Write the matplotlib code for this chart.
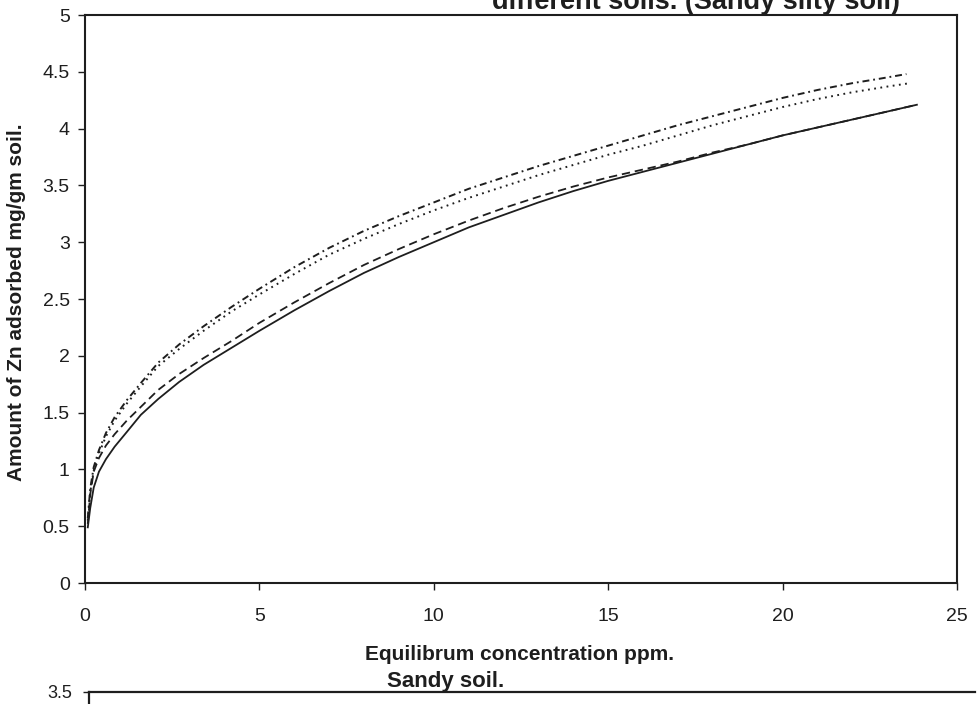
import matplotlib
matplotlib.use("Agg")
import matplotlib.pyplot as plt

plt.rcParams['font.family'] = ['Liberation Sans', 'DejaVu Sans']
plt.rcParams['lines.scale_dashes'] = False

NARROW = ['Liberation Sans Narrow', 'DejaVu Sans Condensed', 'Liberation Sans']

# Equilibrium concentration (ppm)
conc = [0.08, 0.15, 0.25, 0.4, 0.6, 0.85, 1.2, 1.6, 2.1, 2.7, 3.4, 4.2, 5.0,
        6.0, 7.0, 8.0, 9.0, 10, 11, 12, 13, 14, 15, 16, 17, 18, 19, 20, 21,
        22, 23]
conc_solid = conc + [23.85]
conc_dashed = conc + [23.85]
conc_dotted = conc + [23.65]
conc_dashdot = conc[:-1] + [22.8, 23.55]

# Zn adsorbed (mg/gm soil) for the four isotherms
zn_solid = [0.49, 0.66, 0.84, 0.98, 1.09, 1.20, 1.33, 1.48, 1.62, 1.77, 1.92,
            2.07, 2.22, 2.40, 2.57, 2.73, 2.87, 3.00, 3.13, 3.24, 3.35, 3.45,
            3.54, 3.62, 3.70, 3.78, 3.86, 3.94, 4.01, 4.08, 4.15, 4.21]
zn_dashed = [0.52, 0.78, 0.98, 1.10, 1.21, 1.31, 1.43, 1.55, 1.70, 1.84, 1.98,
             2.13, 2.29, 2.47, 2.64, 2.80, 2.94, 3.07, 3.19, 3.30, 3.40, 3.49,
             3.57, 3.64, 3.71, 3.79, 3.86, 3.94, 4.01, 4.08, 4.15, 4.21]
zn_dotted = [0.55, 0.80, 0.99, 1.14, 1.29, 1.43, 1.58, 1.73, 1.91, 2.06, 2.22,
             2.39, 2.54, 2.72, 2.89, 3.03, 3.16, 3.28, 3.39, 3.49, 3.59, 3.68,
             3.77, 3.85, 3.94, 4.03, 4.11, 4.19, 4.26, 4.32, 4.37, 4.40]
zn_dashdot = [0.57, 0.83, 1.02, 1.17, 1.32, 1.46, 1.61, 1.76, 1.94, 2.10, 2.26,
              2.43, 2.59, 2.78, 2.95, 3.10, 3.23, 3.35, 3.47, 3.57, 3.67, 3.76,
              3.85, 3.94, 4.03, 4.11, 4.19, 4.27, 4.34, 4.40, 4.44, 4.48]

x_ticks = [0, 5, 10, 15, 20, 25]
y_ticks = [0, 0.5, 1, 1.5, 2, 2.5, 3, 3.5, 4, 4.5, 5]

ink = '#1e1e1e'
W, H = 980, 704
fig = plt.figure(figsize=(W / 100, H / 100), dpi=100)

# main panel: frame from x=85..957 px, y=15..583 px
ax = fig.add_axes([85 / W, 1 - 583 / H, (957 - 85) / W, (583 - 15) / H])
ax.plot(conc_solid, zn_solid, color=ink, lw=1.3, ls='-')
ax.plot(conc_dashed, zn_dashed, color=ink, lw=1.3, ls=(0, (6, 3.5)))
ax.plot(conc_dotted, zn_dotted, color=ink, lw=1.4, ls=(0, (1.3, 3.2)))
ax.plot(conc_dashdot, zn_dashdot, color=ink, lw=1.4,
        ls=(0, (5, 2.8, 1.3, 2.8)))

ax.set_xlim(0, 25)
ax.set_ylim(0, 5)
ax.set_xticks(x_ticks)
ax.set_xticklabels([str(v) for v in x_ticks], family=NARROW)
ax.set_yticks(y_ticks)
ax.set_yticklabels([f'{v:g}' for v in y_ticks])
ax.tick_params(axis='x', direction='out', length=5, width=1, colors=ink,
               labelsize=14, pad=13)
ax.tick_params(axis='y', direction='out', length=5, width=1, colors=ink,
               labelsize=14, pad=6)
for s in ax.spines.values():
    s.set_linewidth(1.5)
    s.set_color(ink)

ax.set_ylabel('Amount of Zn adsorbed mg/gm soil.', fontsize=15,
              fontweight='bold', color=ink, va='center', ha='center')
ax.yaxis.set_label_coords((17 - 85) / 872, (583 - 302) / 568)
ax.set_xlabel('Equilibrum concentration ppm.', fontsize=15,
              fontweight='bold', color=ink, va='center', ha='center',
              family=NARROW)
ax.xaxis.set_label_coords((519 - 85) / 872, (583 - 655) / 568)

# title, largely above the top edge
fig.text(900 / W, 1 - 9 / H, 'different soils. (Sandy silty soil)',
         ha='right', va='baseline', fontsize=19.5, fontweight='bold',
         color=ink)

# next panel, only its top edge shows
ax2 = fig.add_axes([89 / W, 1 - 992 / H, (975 - 89) / W, 300 / H])
ax2.set_xlim(0, 25)
ax2.set_ylim(0, 3.5)
ax2.set_yticks([3.5])
ax2.set_yticklabels(['3.5'])
ax2.set_xticks([])
ax2.tick_params(axis='y', direction='out', length=4, width=1, colors=ink,
                labelsize=13, pad=8)
for name, s in ax2.spines.items():
    s.set_linewidth(1.6)
    s.set_color(ink)
ax2.spines['right'].set_visible(False)
fig.text(446 / W, 1 - 681 / H, 'Sandy soil.', ha='center', va='center',
         fontsize=16, fontweight='bold', color=ink, family=NARROW)

fig.savefig('out.png', dpi=100)
